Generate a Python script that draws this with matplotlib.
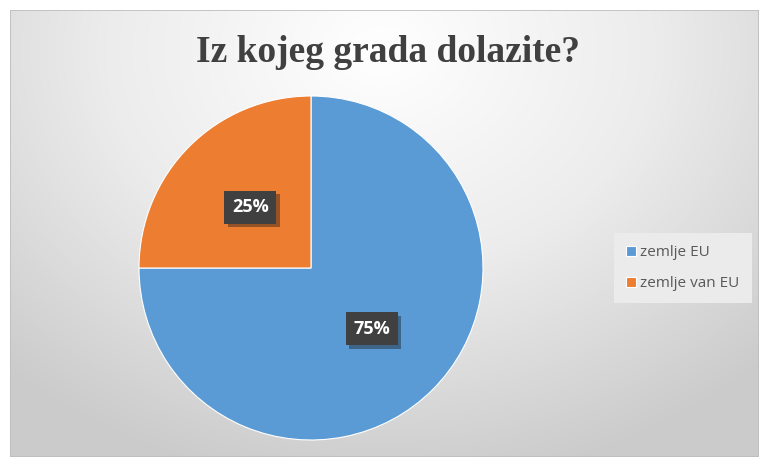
#!/usr/bin/env python3
import matplotlib

matplotlib.use("Agg")
import matplotlib.patheffects as pe
import matplotlib.pyplot as plt
import numpy as np
from matplotlib.colors import LinearSegmentedColormap
from matplotlib.patches import Rectangle

title = "Iz kojeg grada dolazite?"
categories = ["zemlje EU", "zemlje van EU"]
shares = [75, 25]
colors = ["#5B9BD5", "#ED7D31"]

W, H = 759, 457
fig = plt.figure(figsize=(W / 100, H / 100), dpi=100)
fig.patch.set_facecolor("white")

# radial gradient background panel
bg = fig.add_axes([10 / W, 0, (W - 10) / W, (H - 10) / H])
bg.set_axis_off()
yy, xx = np.mgrid[0:H - 10, 0:W - 10]
cx, cy = 370, 40
dist = np.sqrt(((xx - cx) / 1.25) ** 2 + (yy - cy) ** 2)
dist = np.clip(dist / 440, 0, 1)
cmap = LinearSegmentedColormap.from_list("bg", ["#ffffff", "#ececec", "#cbcbcb"])
bg.imshow(dist, cmap=cmap, aspect="auto", interpolation="bilinear", extent=[0, 1, 0, 1])
bg.add_patch(Rectangle((0, 0), 1, 1, transform=bg.transAxes, fill=False,
                       edgecolor="#bdbdbd", linewidth=1.2))

fig.text(388 / W, 1 - 52 / H, title, ha="center", va="center",
         fontsize=27, fontweight="bold", family="Liberation Serif", color="#404040")

r = 172
ax = fig.add_axes([(311 - r) / W, (H - 268 - r) / H, 2 * r / W, 2 * r / H])
wedges, _, autotexts = ax.pie(
    shares,
    colors=colors,
    startangle=90,
    counterclock=False,
    autopct="%d%%",
    pctdistance=0.5,
    radius=1.0,
    wedgeprops={"edgecolor": "white", "linewidth": 0.8},
)
ax.set_xlim(-1, 1)
ax.set_ylim(-1, 1)
for t in autotexts:
    t.set_color("white")
    t.set_fontweight("bold")
    t.set_fontsize(13)
    t.set_family("Open Sans")
    t.set_bbox({"boxstyle": "square,pad=0.42", "facecolor": "#404040",
                "edgecolor": "none",
                "path_effects": [pe.SimplePatchShadow(offset=(2.5, -2.5), alpha=0.4),
                                 pe.Normal()]})

leg = fig.legend(wedges, categories, loc="center left",
                 bbox_to_anchor=(606 / W, 1 - 268 / H), frameon=True,
                 prop={"family": "Open Sans", "size": 11},
                 handlelength=0.65, handleheight=0.65, handletextpad=0.3,
                 labelspacing=1.05, borderpad=0.8, fancybox=False)
leg.get_frame().set_facecolor("#ebebeb")
leg.get_frame().set_edgecolor("none")
leg.get_frame().set_alpha(1)
for t in leg.get_texts():
    t.set_color("#595959")

fig.savefig("out.png", dpi=100)
